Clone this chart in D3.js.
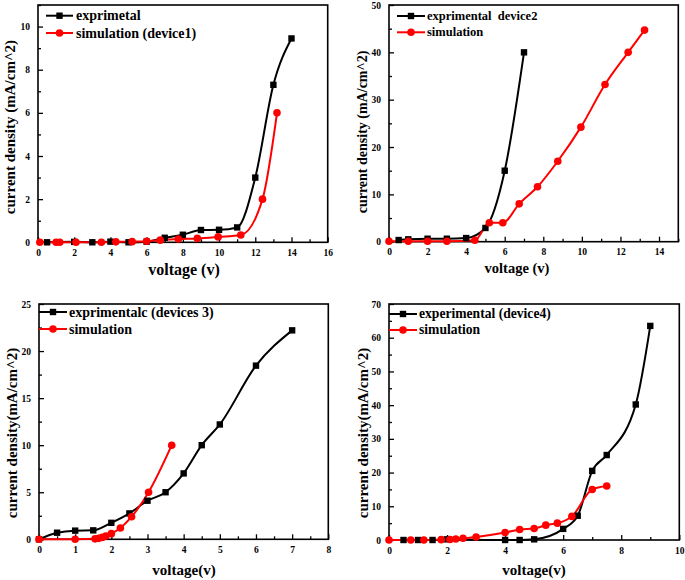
<!DOCTYPE html>
<html><head><meta charset="utf-8">
<script src="https://cdn.jsdelivr.net/npm/d3@7"></script>
<style>
html,body{margin:0;padding:0;background:#fff;}
svg{display:block;font-family:"Liberation Serif","Times New Roman",serif;font-weight:bold;}
</style></head>
<body>
<svg id="chart" width="685" height="580"></svg>
<script>
// ---------- DATA ----------
// Panel 1 (device 1)
const p1ExpX = [0.5, 2, 3, 4, 5, 6, 7, 8, 9, 10, 11, 12, 13, 14];
const p1ExpY = [0, 0.02, 0, 0.03, 0, 0.03, 0.21, 0.35, 0.57, 0.58, 0.69, 3.0, 7.3, 9.45];
const p1SimX = [0.1, 1.0, 1.2, 2.1, 3.5, 4.3, 5.2, 6.0, 6.75, 7.75, 8.8, 9.95, 11.2, 12.4, 13.2];
const p1SimY = [0, 0, 0, 0, 0, 0.02, 0.03, 0.05, 0.1, 0.15, 0.18, 0.25, 0.34, 2.0, 6.0];
// Panel 2 (device 2)
const p2ExpX = [0.5, 1, 2, 3, 4, 5, 6, 7];
const p2ExpY = [0.35, 0.5, 0.63, 0.63, 0.77, 2.9, 15, 40];
const p2SimX = [0, 1, 2, 3, 4.45, 5.2, 5.9, 6.75, 7.7, 8.75, 9.95, 11.2, 12.4, 13.25];
const p2SimY = [0.1, 0.1, 0.1, 0.1, 0.3, 4.0, 4.0, 8.0, 11.6, 17.0, 24.2, 33.2, 40.0, 44.7];
// Panel 3 (device 3)
const p3ExpX = [0, 0.5, 1, 1.5, 2, 2.5, 3, 3.5, 4, 4.5, 5, 6, 7];
const p3ExpY = [0, 0.7, 0.92, 0.95, 1.75, 2.75, 4.1, 5.0, 7.0, 10.0, 12.2, 18.45, 22.2];
const p3SimX = [0, 1.0, 1.55, 1.65, 1.75, 1.85, 2.0, 2.25, 2.56, 3.03, 3.67];
const p3SimY = [0, 0, 0.05, 0.1, 0.2, 0.35, 0.6, 1.2, 2.4, 5.0, 10.0];
// Panel 4 (device 4)
const p4ExpX = [0.5, 1, 1.5, 2, 4, 4.5, 5, 6, 6.5, 7, 7.5, 8.5, 9];
const p4ExpY = [0, 0, 0, 0.2, 0, 0, 0.2, 3.3, 7.2, 20.5, 25.2, 40.2, 63.5];
const p4SimX = [0, 0.75, 1.2, 1.8, 2.1, 2.3, 2.55, 3.0, 4.0, 4.5, 5.0, 5.4, 5.8, 6.3, 7.0, 7.5];
const p4SimY = [0, 0, 0, 0.1, 0.15, 0.3, 0.5, 0.9, 2.2, 3.1, 3.4, 4.4, 5.0, 7.0, 15.0, 16.0];

// Axis tick labels / domains
const p1XTicks = [0, 2, 4, 6, 8, 10, 12, 14, 16];
const p1YTicks = [0, 2, 4, 6, 8, 10];
const p2XTicks = [0, 2, 4, 6, 8, 10, 12, 14];
const p2YTicks = [0, 10, 20, 30, 40, 50];
const p3XTicks = [0, 1, 2, 3, 4, 5, 6, 7, 8];
const p3YTicks = [0, 5, 10, 15, 20, 25];
const p4XTicks = [0, 2, 4, 6, 8, 10];
const p4YTicks = [0, 10, 20, 30, 40, 50, 60, 70];

// Texts
const legendLabels = [
  ["exprimetal", "simulation (device1)"],
  ["exprimental  device2", "simulation"],
  ["exprimentalc (devices 3)", "simulation"],
  ["experimental (device4)", "simulation"]
];
const xTitles = ["voltage (v)", "voltage (v)", "voltage(v)", "voltage(v)"];
const yTitles = ["current density (mA/cm^2)", "current density (mA/cm^2)", "current density(mA/cm^2)", "current density(mA/cm^2)"];

// ---------- LAYOUT ----------
const panels = [
  {l:38, r:327.7, t:5, b:242.3, xd:[0,16], yd:[0,11], xt:p1XTicks, yt:p1YTicks, xm:1, ym:1,
   exp:[p1ExpX,p1ExpY], sim:[p1SimX,p1SimY], leg:{x0:46, x1:73, tx:76, y1:15.7, y2:33, fs:14},
   xTitle:{x:184, y:275, fs:16}, yTitle:{x:15, y:127, fs:15}},
  {l:389, r:678.3, t:5, b:241.7, xd:[0,15], yd:[0,50], xt:p2XTicks, yt:p2YTicks, xm:1, ym:5,
   exp:[p2ExpX,p2ExpY], sim:[p2SimX,p2SimY], leg:{x0:397, x1:425, tx:427, y1:16, y2:32.3, fs:12.5},
   xTitle:{x:517, y:272.5, fs:14.5}, yTitle:{x:367, y:132, fs:14}},
  {l:39, r:328.3, t:304, b:539.3, xd:[0,8], yd:[0,25], xt:p3XTicks, yt:p3YTicks, xm:0.5, ym:2.5,
   exp:[p3ExpX,p3ExpY], sim:[p3SimX,p3SimY], leg:{x0:39, x1:67, tx:69, y1:312, y2:329, fs:14},
   xTitle:{x:184, y:575, fs:15}, yTitle:{x:17, y:433, fs:15}},
  {l:389, r:679.3, t:304, b:540, xd:[0,10], yd:[0,70], xt:p4XTicks, yt:p4YTicks, xm:1, ym:5,
   exp:[p4ExpX,p4ExpY], sim:[p4SimX,p4SimY], leg:{x0:389, x1:417, tx:419, y1:314, y2:330, fs:13.6},
   xTitle:{x:534, y:575, fs:15}, yTitle:{x:368, y:433, fs:15}}
];

const svg = d3.select("#chart");
const BLACK = "#000", RED = "#ff0000";

panels.forEach((p, i) => {
  const x = d3.scaleLinear().domain(p.xd).range([p.l, p.r]);
  const y = d3.scaleLinear().domain(p.yd).range([p.b, p.t]);
  const g = svg.append("g");

  // minor ticks
  const xMinor = d3.range(p.xd[0], p.xd[1] + 1e-9, p.xm).filter(v => !p.xt.some(t => Math.abs(t - v) < 1e-9));
  const yMinor = d3.range(p.yd[0], p.yd[1] + 1e-9, p.ym).filter(v => !p.yt.some(t => Math.abs(t - v) < 1e-9));

  const xAxis = d3.axisBottom(x).tickValues(p.xt).tickSize(-5).tickPadding(8).tickFormat(d3.format("d"));
  const yAxis = d3.axisLeft(y).tickValues(p.yt.filter(v => v <= p.yd[1])).tickSize(-5).tickPadding(8).tickFormat(d3.format("d"));
  const gx = g.append("g").attr("transform", `translate(0,${p.b})`).call(xAxis);
  const gy = g.append("g").attr("transform", `translate(${p.l},0)`).call(yAxis);
  g.append("g").attr("transform", `translate(0,${p.b})`)
    .call(d3.axisBottom(x).tickValues(xMinor).tickSize(-3).tickFormat(""));
  g.append("g").attr("transform", `translate(${p.l},0)`)
    .call(d3.axisLeft(y).tickValues(yMinor).tickSize(-3).tickFormat(""));
  g.selectAll(".domain").remove();
  g.selectAll(".tick line").attr("stroke", BLACK).attr("stroke-width", 1.3);
  g.selectAll(".tick text").attr("font-size", 9.5).attr("font-family", "Liberation Serif").attr("font-weight", "bold").attr("fill", BLACK);
  gx.selectAll(".tick text").attr("dy", "0.71em").attr("y", 7);

  // frame
  g.append("rect").attr("x", p.l).attr("y", p.t).attr("width", p.r - p.l).attr("height", p.b - p.t)
    .attr("fill", "none").attr("stroke", BLACK).attr("stroke-width", 1.6);

  const line = d3.line().x(d => x(d[0])).y(d => y(d[1])).curve(d3.curveMonotoneX);
  const series = [
    {data: d3.zip(p.exp[0], p.exp[1]), color: BLACK, shape: "sq"},
    {data: d3.zip(p.sim[0], p.sim[1]), color: RED, shape: "ci"}
  ];
  const plot = g.append("g");
  series.forEach(s => {
    plot.append("path").datum(s.data).attr("d", line).attr("fill", "none")
      .attr("stroke", s.color).attr("stroke-width", 2);
  });
  series.forEach(s => {
    if (s.shape === "sq") {
      plot.selectAll(null).data(s.data).enter().append("rect")
        .attr("x", d => x(d[0]) - 3.2).attr("y", d => y(d[1]) - 3.2)
        .attr("width", 6.4).attr("height", 6.4).attr("fill", s.color);
    } else {
      plot.selectAll(null).data(s.data).enter().append("circle")
        .attr("cx", d => x(d[0])).attr("cy", d => y(d[1])).attr("r", 3.8).attr("fill", s.color);
    }
  });

  // legend
  const L = p.leg;
  [[L.y1, BLACK, "sq", legendLabels[i][0]], [L.y2, RED, "ci", legendLabels[i][1]]].forEach(([yy, c, sh, txt]) => {
    g.append("line").attr("x1", L.x0).attr("x2", L.x1).attr("y1", yy).attr("y2", yy)
      .attr("stroke", c).attr("stroke-width", 2);
    const mx = (L.x0 + L.x1) / 2;
    if (sh === "sq") g.append("rect").attr("x", mx - 3.2).attr("y", yy - 3.2).attr("width", 6.4).attr("height", 6.4).attr("fill", c);
    else g.append("circle").attr("cx", mx).attr("cy", yy).attr("r", 3.8).attr("fill", c);
    g.append("text").attr("x", L.tx).attr("y", yy).attr("dy", "0.33em")
      .attr("font-size", L.fs).attr("fill", BLACK).style("white-space", "pre").attr("xml:space", "preserve").text(txt);
  });

  // titles
  g.append("text").attr("x", p.xTitle.x).attr("y", p.xTitle.y).attr("text-anchor", "middle")
    .attr("font-size", p.xTitle.fs).attr("fill", BLACK).text(xTitles[i]);
  g.append("text").attr("transform", `translate(${p.yTitle.x},${p.yTitle.y}) rotate(-90)`)
    .attr("text-anchor", "middle").attr("font-size", p.yTitle.fs).attr("fill", BLACK).text(yTitles[i]);
});
</script>
</body></html>
